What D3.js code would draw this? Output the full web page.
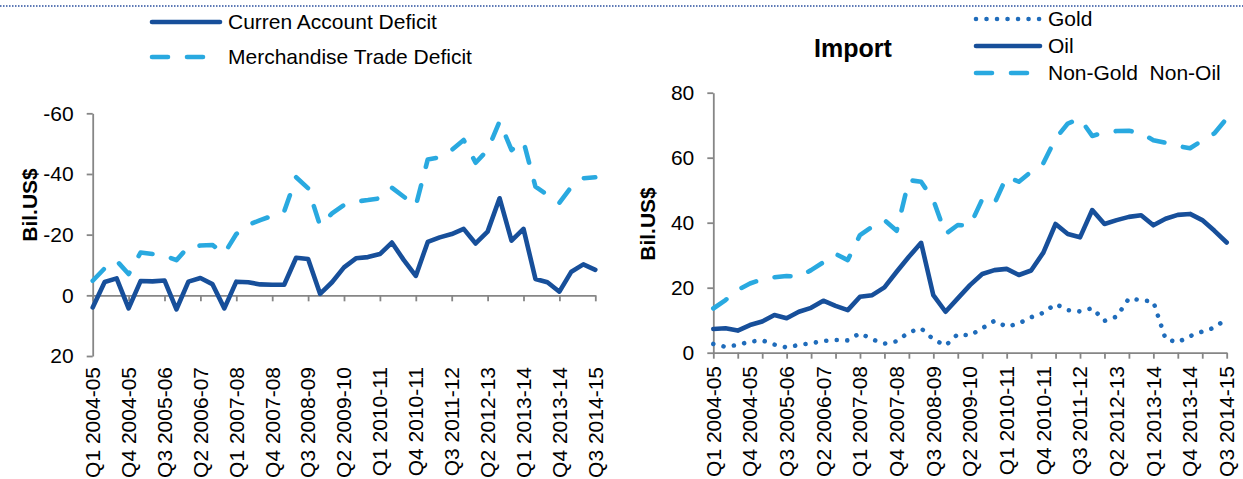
<!DOCTYPE html>
<html>
<head>
<meta charset="utf-8">
<script src="https://cdn.jsdelivr.net/npm/d3@7"></script>
<style>
body{margin:0;background:#fff;}
text{font-family:"Liberation Sans",Arial,sans-serif;fill:#000;}
</style>
</head>
<body>
<div class="canvas"></div>
<script>
// quarterly categories, Q1 2004-05 .. Q3 2014-15
const quarters=[
 'Q1 2004-05','Q2 2004-05','Q3 2004-05','Q4 2004-05',
 'Q1 2005-06','Q2 2005-06','Q3 2005-06','Q4 2005-06',
 'Q1 2006-07','Q2 2006-07','Q3 2006-07','Q4 2006-07',
 'Q1 2007-08','Q2 2007-08','Q3 2007-08','Q4 2007-08',
 'Q1 2008-09','Q2 2008-09','Q3 2008-09','Q4 2008-09',
 'Q1 2009-10','Q2 2009-10','Q3 2009-10','Q4 2009-10',
 'Q1 2010-11','Q2 2010-11','Q3 2010-11','Q4 2010-11',
 'Q1 2011-12','Q2 2011-12','Q3 2011-12','Q4 2011-12',
 'Q1 2012-13','Q2 2012-13','Q3 2012-13','Q4 2012-13',
 'Q1 2013-14','Q2 2013-14','Q3 2013-14','Q4 2013-14',
 'Q1 2014-15','Q2 2014-15','Q3 2014-15'];

// left panel (bil. US$, deficit shown negative)
const currentAccount=[4.0,-4.4,-5.6,4.3,-4.7,-4.6,-4.9,4.6,-4.5,-5.7,-3.7,4.3,-4.5,-4.3,-3.6,-3.5,-3.5,-12.4,-12.0,-0.5,
 -4.3,-9.2,-12.2,-12.6,-13.6,-17.4,-11.6,-6.4,-17.6,-19.1,-20.2,-21.9,-17.1,-21.0,-32.0,-18.0,-21.9,-5.4,-4.3,-1.2,-7.8,-10.2,-8.4];
const tradeDeficit=[-4.8,-8.9,-11.4,-7.0,-14.1,-13.6,-13.1,-11.6,-16.0,-16.4,-16.6,-13.8,-20.2,-23.2,-24.8,-26.2,-27.6,-38.9,-35.3,-23.0,
 -27.0,-29.8,-30.9,-31.4,-32.0,-35.5,-32.5,-29.5,-44.8,-45.5,-47.9,-51.2,-43.7,-47.9,-57.3,-47.9,-50.7,-35.8,-33.1,-30.5,-35.8,-38.6,-38.9];

// right panel: imports (bil. US$)
const gold=[2.7,1.8,2.4,3.4,3.8,2.5,1.6,2.4,2.9,3.6,3.9,3.8,6.0,4.1,2.8,3.5,6.3,7.5,4.1,2.2,
 5.7,5.3,7.5,9.8,8.0,9.0,10.9,12.3,15.0,13.1,12.7,13.7,9.8,11.1,16.7,16.2,15.7,4.2,3.2,5.1,6.5,7.7,10.5];
const oil=[7.3,7.5,6.8,8.5,9.6,11.6,10.6,12.6,13.8,16.0,14.4,13.1,17.2,17.7,20.1,24.9,29.5,33.8,17.7,12.6,
 16.7,20.8,24.2,25.4,25.8,23.9,25.3,30.8,39.6,36.5,35.5,43.9,39.6,40.8,41.8,42.3,39.2,41.2,42.4,42.7,40.8,37.5,33.9];
const nonGoldNonOil=[13.6,16.2,19.3,21.3,22.6,23.2,23.6,23.4,25.4,27.8,30.4,28.5,36.2,38.8,40.8,37.5,53.1,52.6,47.0,36.5,
 39.3,39.1,47.2,45.9,54.2,52.6,55.7,58.3,65.9,70.5,72.0,66.7,67.8,68.2,68.3,67.5,65.4,64.6,63.6,62.9,65.3,67.5,72.1];

const deficitTicks=[-60,-40,-20,0,20];
const importTicks=[0,20,40,60,80];
const labelQuarters=quarters.filter((q,i)=>i%3===0);

const dark='#174f9a', light='#29a9e0', mid='#1f6cbb', axisGrey='#868686';

const svg=d3.select('.canvas')
  .append('svg')
    .attr('width',1243)
    .attr('height',479);

// dotted rule of the page header
svg.append('line')
  .attr('x1',0).attr('x2',1243).attr('y1',6).attr('y2',6)
  .attr('stroke','#2a4f9e').attr('stroke-width',1.5)
  .attr('stroke-dasharray','1.5,1.5');

function styleAxis(g){
  g.select('.domain').attr('stroke',axisGrey).attr('stroke-width',1.8);
  g.selectAll('.tick line').attr('stroke',axisGrey).attr('stroke-width',1.8);
  g.selectAll('text').attr('font-size',21).attr('font-family','Liberation Sans, Arial').attr('fill','#000');
}

function drawLine(x,y,values,color,dash){
  const line=d3.line()
    .x((d,i)=>x(quarters[i]))
    .y(d=>y(d));
  const p=svg.append('path')
    .datum(values)
    .attr('fill','none')
    .attr('stroke',color)
    .attr('stroke-width',4.6)
    .attr('stroke-linejoin','round')
    .attr('stroke-linecap','round')
    .attr('d',line);
  if(dash) p.attr('stroke-dasharray',dash);
}

function quarterLabels(x,top){
  svg.append('g').selectAll('text')
    .data(labelQuarters)
    .enter().append('text')
      .attr('transform',d=>`translate(${x(d)},${top}) rotate(-90)`)
      .attr('text-anchor','end')
      .attr('dy','0.35em')
      .attr('font-size',21)
      .text(d=>d);
}

function yTitle(cx,cy){
  svg.append('text')
    .attr('transform',`translate(${cx},${cy}) rotate(-90)`)
    .attr('text-anchor','middle')
    .attr('dy','0.35em')
    .attr('font-size',21)
    .attr('font-weight','bold')
    .text('Bil.US$');
}

const DASH='16,19', DOTS='0.01,10.5';

// ---------- left panel ----------
const xL=d3.scalePoint().domain(quarters).range([92.7,595.3]);
const yL=d3.scaleLinear().domain([-60,20]).range([113.3,356]);

const yAxisL=svg.append('g')
  .attr('transform','translate(92.7,0)')
  .call(d3.axisLeft(yL).tickValues(deficitTicks).tickSize(6).tickSizeOuter(0).tickPadding(13).tickFormat(d=>String(d)));
styleAxis(yAxisL);

const xAxisL=svg.append('g')
  .attr('transform',`translate(0,${yL(0)})`)
  .call(d3.axisBottom(xL).tickValues(labelQuarters).tickSize(6).tickSizeOuter(0).tickFormat(''));
styleAxis(xAxisL);

drawLine(xL,yL,tradeDeficit,light,DASH);
drawLine(xL,yL,currentAccount,dark);
quarterLabels(xL,367);
yTitle(30,205);

// legend
const legL=[
  {name:'Curren Account Deficit',color:dark,dash:null,y:22},
  {name:'Merchandise Trade Deficit',color:light,dash:DASH,y:57}];
legL.forEach(d=>{
  const l=svg.append('line').attr('x1',152).attr('x2',220).attr('y1',d.y).attr('y2',d.y)
    .attr('stroke',d.color).attr('stroke-width',4.6).attr('stroke-linecap','round');
  if(d.dash) l.attr('stroke-dasharray',d.dash);
  svg.append('text').attr('x',228).attr('y',d.y).attr('dy','0.35em').attr('font-size',21).text(d.name);
});

// ---------- right panel ----------
const xR=d3.scalePoint().domain(quarters).range([713.3,1226.7]);
const yR=d3.scaleLinear().domain([0,80]).range([352.7,92.7]);

const yAxisR=svg.append('g')
  .attr('transform','translate(713.3,0)')
  .call(d3.axisLeft(yR).tickValues(importTicks).tickSize(6).tickSizeOuter(0).tickPadding(13));
styleAxis(yAxisR);

const xAxisR=svg.append('g')
  .attr('transform',`translate(0,${yR(0)})`)
  .call(d3.axisBottom(xR).tickValues(quarters.filter((q,i)=>i%2===0)).tickSize(6).tickSizeOuter(0).tickFormat(''));
styleAxis(xAxisR);

drawLine(xR,yR,nonGoldNonOil,light,DASH);
drawLine(xR,yR,oil,dark);
drawLine(xR,yR,gold,mid,DOTS);
quarterLabels(xR,366);
yTitle(648,224);

svg.append('text')
  .attr('x',853).attr('y',48).attr('dy','0.35em')
  .attr('text-anchor','middle')
  .attr('font-size',25).attr('font-weight','bold')
  .text('Import');

const legR=[
  {name:'Gold',color:mid,dash:DOTS,y:19},
  {name:'Oil',color:dark,dash:null,y:46},
  {name:'Non-Gold\u00a0 Non-Oil',color:light,dash:DASH,y:73}];
legR.forEach(d=>{
  const l=svg.append('line').attr('x1',976).attr('x2',1040).attr('y1',d.y).attr('y2',d.y)
    .attr('stroke',d.color).attr('stroke-width',4.6).attr('stroke-linecap','round');
  if(d.dash) l.attr('stroke-dasharray',d.dash);
  svg.append('text').attr('x',1048).attr('y',d.y).attr('dy','0.35em').attr('font-size',21).text(d.name);
});
</script>
</body>
</html>
